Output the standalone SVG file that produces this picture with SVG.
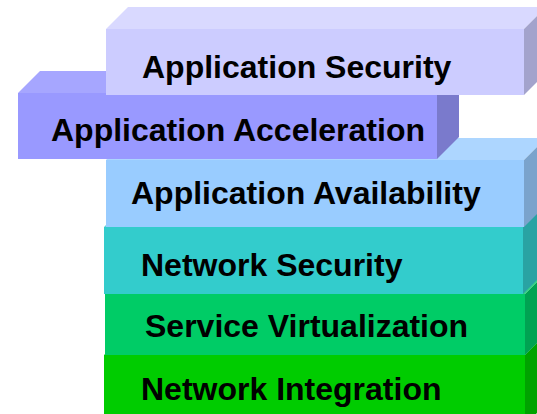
<svg xmlns="http://www.w3.org/2000/svg" width="537" height="414" viewBox="0 0 537 414">
<style>
text{font-family:"Liberation Sans",Arial,sans-serif;font-weight:bold;font-size:32px;fill:#000}
</style>
<rect width="537" height="414" fill="#fff"/>
<g id="network-integration">
<polygon points="104,355 126,333 547,333 525,355" fill="#33D633"/>
<rect x="104" y="355" width="421" height="70" fill="#00CC00"/>
<polygon points="525,355 547,333 547,403 525,425" fill="#00A300"/>
<text x="141" y="399.5">Network Integration</text>
</g>
<g id="service-virtualization">
<polygon points="105,294 127,272 547,272 525,294" fill="#33D685"/>
<rect x="105" y="294" width="420" height="61" fill="#00CC66"/>
<polygon points="525,294 547,272 547,333 525,355" fill="#00A352"/>
<text x="145" y="337">Service Virtualization</text>
</g>
<g id="network-security">
<polygon points="104,227 126,205 545,205 523,227" fill="#5CD6D6"/>
<rect x="104" y="227" width="419" height="67" fill="#33CCCC"/>
<polygon points="523,227 545,205 545,272 523,294" fill="#29A3A3"/>
<text x="141" y="275.5">Network Security</text>
</g>
<g id="application-availability">
<polygon points="106,160 128,138 546,138 524,160" fill="#ADD6FF"/>
<rect x="106" y="160" width="418" height="67" fill="#99CCFF"/>
<polygon points="524,160 546,138 546,205 524,227" fill="#7AA3CC"/>
<text x="131" y="203.5">Application Availability</text>
</g>
<g id="application-acceleration">
<polygon points="18,93 40,71 459,71 437,93" fill="#A6A6FF"/>
<rect x="18" y="93" width="419" height="66" fill="#9999FF"/>
<polygon points="437,93 459,71 459,137 437,159" fill="#7A7ACC"/>
<text x="51" y="141">Application Acceleration</text>
</g>
<g id="application-security">
<polygon points="106,29 128,7 546,7 524,29" fill="#D9D9FF"/>
<rect x="106" y="29" width="418" height="66" fill="#CCCCFF"/>
<polygon points="524,29 546,7 546,73 524,95" fill="#A3A3CC"/>
<text x="142" y="77.5">Application Security</text>
</g>
<g id="connectors"/>
</svg>
